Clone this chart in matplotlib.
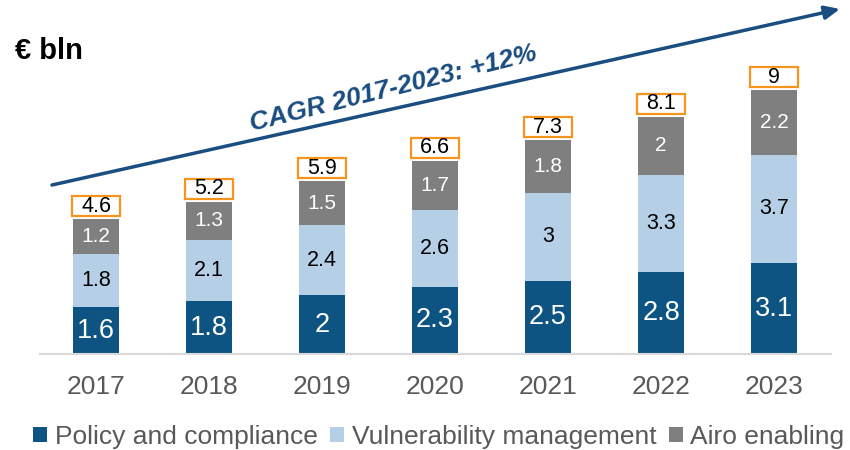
import matplotlib
matplotlib.use("Agg")
import matplotlib.pyplot as plt
from matplotlib.patches import Rectangle
import numpy as np

plt.rcParams['font.family'] = ['Liberation Sans', 'DejaVu Sans']

years = ["2017", "2018", "2019", "2020", "2021", "2022", "2023"]
policy = [1.6, 1.8, 2.0, 2.3, 2.5, 2.8, 3.1]
vulnerability = [1.8, 2.1, 2.4, 2.6, 3.0, 3.3, 3.7]
airo = [1.2, 1.3, 1.5, 1.7, 1.8, 2.0, 2.2]
totals = [4.6, 5.2, 5.9, 6.6, 7.3, 8.1, 9]
series_names = ["Policy and compliance", "Vulnerability management", "Airo enabling"]

c_dark = "#0D5482"
c_light = "#B4CFE6"
c_gray = "#7F7F7F"
c_orange = "#F7941D"
c_arrow = "#1A4D80"

def fmt(v):
    return f"{v:g}"

fig = plt.figure(figsize=(8.5, 4.5), dpi=100)
ax = fig.add_axes([39.5/850, 96/450, 791/850, 293/450])
ax.set_xlim(-0.5, 6.5)
ax.set_ylim(0, 10)

x = np.arange(len(years))
w = 0.4
b1 = ax.bar(x, policy, w, color=c_dark, label=series_names[0])
b2 = ax.bar(x, vulnerability, w, bottom=policy, color=c_light, label=series_names[1])
bot3 = [p + v for p, v in zip(policy, vulnerability)]
b3 = ax.bar(x, airo, w, bottom=bot3, color=c_gray, label=series_names[2])

box_w, box_h, gap = 0.416, 0.68, 0.1
for i in range(len(years)):
    ax.text(x[i], policy[i] / 2, fmt(policy[i]), ha="center", va="center",
            color="white", fontsize=19.5)
    ax.text(x[i], policy[i] + vulnerability[i] / 2, fmt(vulnerability[i]),
            ha="center", va="center", color="black", fontsize=15.5)
    ax.text(x[i], bot3[i] + airo[i] / 2, fmt(airo[i]), ha="center", va="center",
            color="white", fontsize=15)
    top = bot3[i] + airo[i]
    ax.add_patch(Rectangle((x[i] - box_w / 2, top + gap), box_w, box_h,
                           facecolor="white", edgecolor=c_orange, lw=1.6,
                           clip_on=False, zorder=3))
    ax.text(x[i], top + gap + box_h / 2, fmt(totals[i]), ha="center",
            va="center", color="black", fontsize=15.5, zorder=4)

for s in ["top", "right", "left"]:
    ax.spines[s].set_visible(False)
ax.spines["bottom"].set_color("#D9D9D9")
ax.spines["bottom"].set_linewidth(1.5)
ax.set_yticks([])
ax.set_xticks(x)
ax.set_xticklabels(years, fontsize=19, color="#595959")
ax.tick_params(axis="x", length=0, pad=15)

fig.text(15/850, 1 - 51/450, "€ bln", fontsize=21, fontweight="bold",
         ha="left", va="center")

ax.annotate("", xy=(840/850, 1 - 9/450), xycoords="figure fraction",
            xytext=(52/850, 1 - 185/450), textcoords="figure fraction",
            arrowprops=dict(arrowstyle="-|>,head_length=0.9,head_width=0.4",
                            color=c_arrow, lw=2.5, shrinkA=0, shrinkB=0))
fig.text(393/850, 1 - 89/450, "CAGR 2017-2023: +12%", fontsize=19,
         fontweight="bold", fontstyle="italic", color=c_arrow,
         rotation=14, ha="center", va="center", rotation_mode="anchor")

leg = fig.legend(handles=[b1, b2, b3], labels=series_names, loc="center",
                 bbox_to_anchor=(439/850, 1 - 437/450), ncol=3, frameon=False,
                 fontsize=19, handlelength=0.53, handleheight=0.53,
                 handletextpad=0.3, columnspacing=0.45, labelcolor="#595959",
                 borderpad=0, borderaxespad=0)

fig.savefig("out.png", dpi=100)
